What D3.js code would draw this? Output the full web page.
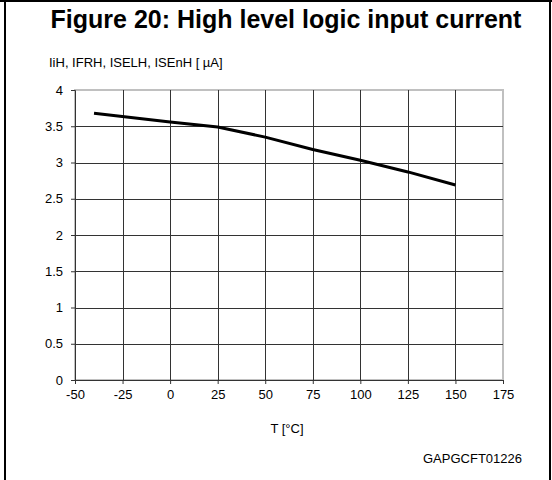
<!DOCTYPE html>
<html>
<head>
<meta charset="utf-8">
<script src="https://cdn.jsdelivr.net/npm/d3@7"></script>
<style>
  body { margin: 0; background: #fff; }
  text { font-family: "Liberation Sans", Arial, sans-serif; fill: #000; }
</style>
</head>
<body>
<div id="chart"></div>
<script>
// data
var temps = [-40, 0, 25, 50, 75, 100, 125, 150];
var current = [3.68, 3.56, 3.49, 3.35, 3.18, 3.03, 2.87, 2.69];
var xTicks = [-50, -25, 0, 25, 50, 75, 100, 125, 150, 175];
var yTicks = [0, 0.5, 1, 1.5, 2, 2.5, 3, 3.5, 4];

var W = 552, H = 480;
var margin = {top: 90, right: 49, bottom: 100, left: 75},
  width = W - margin.left - margin.right,
  height = H - margin.top - margin.bottom;

var svg = d3.select("#chart")
  .append("svg")
  .attr("width", W)
  .attr("height", H);

// outer frame
svg.append("line").attr("x1", 0).attr("x2", W).attr("y1", 1).attr("y2", 1)
  .attr("stroke", "#000").attr("stroke-width", 2);
svg.append("line").attr("x1", 5).attr("x2", 5).attr("y1", 0).attr("y2", H)
  .attr("stroke", "#000").attr("stroke-width", 2);
svg.append("line").attr("x1", 550).attr("x2", 550).attr("y1", 0).attr("y2", H)
  .attr("stroke", "#000").attr("stroke-width", 2);

svg.append("text")
  .attr("x", 286).attr("y", 28)
  .attr("text-anchor", "middle")
  .style("font-size", "25px").style("font-weight", "bold")
  .text("Figure 20: High level logic input current");

svg.append("text")
  .attr("x", 49).attr("y", 67)
  .style("font-size", "13px")
  .text("IiH, IFRH, ISELH, ISEnH [ µA]");

var g = svg.append("g")
  .attr("transform", "translate(" + margin.left + "," + margin.top + ")");

var x = d3.scaleLinear().domain([-50, 175]).range([0, width]);
var y = d3.scaleLinear().domain([0, 4]).range([height, 0]);

// plot border (top/right grey)
g.append("rect")
  .attr("x", 0).attr("y", 0).attr("width", width).attr("height", height)
  .attr("fill", "none").attr("stroke", "#c0c0c0").attr("stroke-width", 2);

// grid
g.append("g").selectAll("line").data(xTicks.slice(1, -1)).enter().append("line")
  .attr("x1", function(d) { return Math.round(x(d)) + 0.5; })
  .attr("x2", function(d) { return Math.round(x(d)) + 0.5; })
  .attr("y1", 0).attr("y2", height)
  .attr("stroke", "#333");
g.append("g").selectAll("line").data(yTicks.slice(1, -1)).enter().append("line")
  .attr("y1", function(d) { return Math.round(y(d)) + 0.5; })
  .attr("y2", function(d) { return Math.round(y(d)) + 0.5; })
  .attr("x1", 0).attr("x2", width)
  .attr("stroke", "#333");

// axes
var xAxis = g.append("g")
  .attr("transform", "translate(0," + height + ")")
  .call(d3.axisBottom(x).tickValues(xTicks).tickSize(4).tickPadding(6)
    .tickFormat(function(d) { return String(d); }));
var yAxis = g.append("g")
  .call(d3.axisLeft(y).tickValues(yTicks).tickSize(4).tickPadding(8)
    .tickFormat(function(d) { return String(d); }));

[xAxis, yAxis].forEach(function(a) {
  a.select(".domain").attr("stroke", "#333");
  a.selectAll(".tick line").attr("stroke", "#333");
  a.selectAll("text").style("font-size", "13px")
    .style("font-family", "'Liberation Sans', Arial, sans-serif");
});

// curve
var line = d3.line()
  .x(function(d, i) { return x(temps[i]); })
  .y(function(d) { return y(d); });

g.append("path")
  .datum(current)
  .attr("fill", "none")
  .attr("stroke", "#000")
  .attr("stroke-width", 3)
  .attr("d", line);

svg.append("text")
  .attr("x", 287).attr("y", 433)
  .attr("text-anchor", "middle")
  .style("font-size", "13px")
  .text("T [°C]");

svg.append("text")
  .attr("x", 522).attr("y", 463)
  .attr("text-anchor", "end")
  .style("font-size", "13px")
  .text("GAPGCFT01226");
</script>
</body>
</html>
